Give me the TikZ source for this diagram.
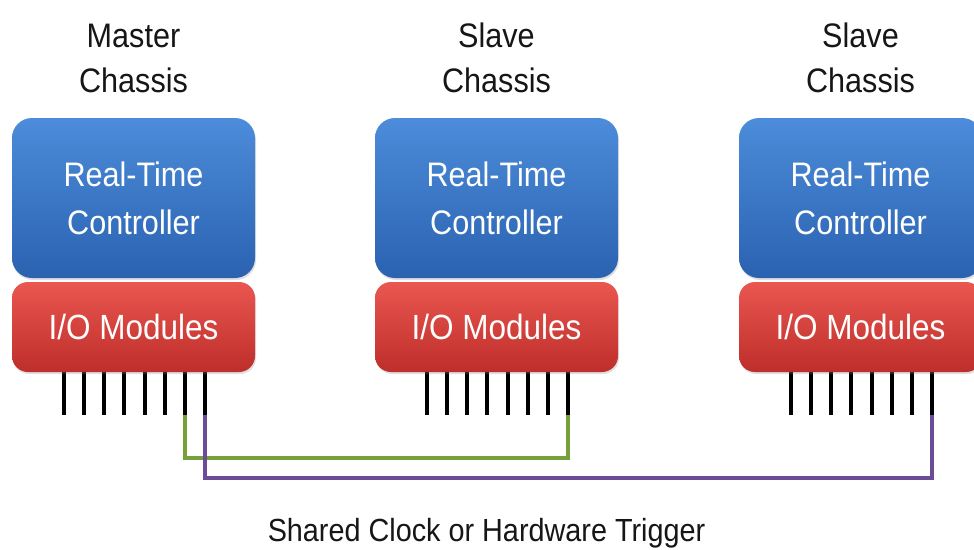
\documentclass[tikz,border=0pt]{standalone}
\usepackage{fontspec}
\setmainfont{Liberation Sans}[FakeStretch=0.9]
\usetikzlibrary{calc,shadows}

\definecolor{ctrltop}{RGB}{76,140,218}
\definecolor{ctrlbot}{RGB}{42,98,176}
\definecolor{iotop}{RGB}{234,86,80}
\definecolor{iobot}{RGB}{190,46,42}
\definecolor{clockgreen}{RGB}{118,160,58}
\definecolor{trigpurple}{RGB}{108,76,150}
\definecolor{titleink}{RGB}{22,22,22}

\tikzset{
	ctrlbox/.style={rounded corners=20pt, top color=ctrltop, bottom color=ctrlbot, draw=none,
		minimum width=243pt, minimum height=160pt, inner sep=0pt, text=white, align=center,
		font=\fontsize{34}{48}\selectfont, drop shadow={opacity=0.25, shadow xshift=1pt, shadow yshift=-2pt}},
	iobox/.style={rounded corners=16pt, top color=iotop, bottom color=iobot, draw=none,
		minimum width=243pt, minimum height=90pt, inner sep=0pt, text=white,
		font=\fontsize{35}{42}\selectfont, drop shadow={opacity=0.25, shadow xshift=1pt, shadow yshift=-2pt}},
	chassistitle/.style={align=center, inner sep=0pt, text=titleink, font=\fontsize{34}{45}\selectfont},
	iopin/.style={line width=4pt, black},
	clockline/.style={line width=4pt, clockgreen},
	trigline/.style={line width=4pt, trigpurple}
}

\begin{document}
\begin{tikzpicture}[x=1pt, y=-1pt]
			%%%%% START %%%%%
			\useasboundingbox[fill=white] (0, 0) rectangle (974, 549);
			
			% pins first, the boxes sit on top of them
			\foreach \c/\cx in {master/12, slaveA/375, slaveB/739} {
				\foreach \i in {1,...,8} {
					\coordinate (\c-p\i) at ({\cx+32+20.1*\i}, 366);
					\coordinate (\c-e\i) at ({\cx+32+20.1*\i}, 415);
					\draw[iopin] (\c-p\i) -- (\c-e\i);
				}
			}
			
			\node[ctrlbox] (master-ctrl) at (133.5, 198) {Real-Time\\Controller};
			\node[iobox] (master-io) at (133.5, 327) {I/O Modules};
			\node[chassistitle] (master-title) at (133.5, 58) {Master\\Chassis};
			
			\node[ctrlbox] (slaveA-ctrl) at (496.5, 198) {Real-Time\\Controller};
			\node[iobox] (slaveA-io) at (496.5, 327) {I/O Modules};
			\node[chassistitle] (slaveA-title) at (496.5, 58) {Slave\\Chassis};
			
			\node[ctrlbox] (slaveB-ctrl) at (860.5, 198) {Real-Time\\Controller};
			\node[iobox] (slaveB-io) at (860.5, 327) {I/O Modules};
			\node[chassistitle] (slaveB-title) at (860.5, 58) {Slave\\Chassis};
			
			% shared lines
			\draw[clockline] (master-e7) -- ++(0, 43) -| (slaveA-e8);
			\draw[trigline] (master-e8) -- ++(0, 63) -| (slaveB-e8);
			
			\node[anchor=base, inner sep=0pt, text=titleink, font=\fontsize{32}{38}\selectfont] (trigger-label) at (486.5, 541) {Shared Clock or Hardware Trigger};
			%%%%% END %%%%%
\end{tikzpicture}
\end{document}
